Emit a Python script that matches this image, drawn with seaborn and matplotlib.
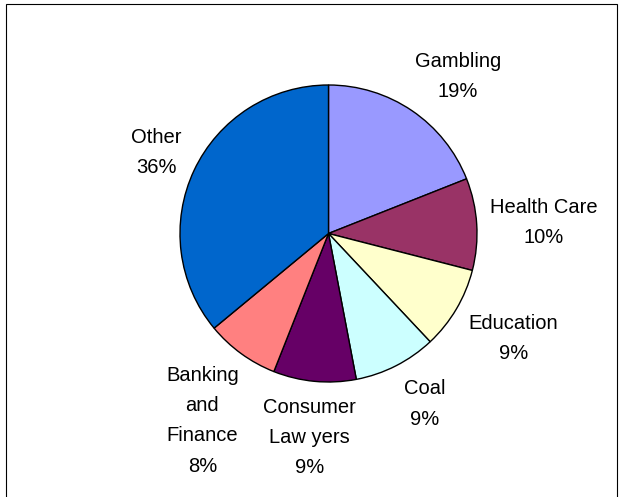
import matplotlib
matplotlib.use("Agg")
import matplotlib.pyplot as plt
import seaborn as sns
import numpy as np

categories = ["Gambling", "Health Care", "Education", "Coal",
              "Consumer\nLaw yers", "Banking\nand\nFinance", "Other"]
values = [19, 10, 9, 9, 9, 8, 36]
colors = ["#9999FF", "#993366", "#FFFFCC", "#CCFFFF", "#660066", "#FF8080", "#0066CC"]

sns.set_theme(style="white")
plt.rcParams['font.family'] = ['Liberation Sans', 'DejaVu Sans']

fig = plt.figure(figsize=(6.23, 4.97), dpi=100)
fig.patch.set_facecolor("white")
# outer frame
fig.add_artist(plt.Rectangle((6/623, -0.01), (617-6)/623, 1 - 4/497 + 0.01,
                             transform=fig.transFigure, fill=False,
                             edgecolor="black", linewidth=0.8))

ax = fig.add_axes([180/623, (497-382)/497, 297/623, 297/497])
labels = [f"{c}\n{v}%" for c, v in zip(categories, values)]
wedges, texts = ax.pie(values, colors=colors, startangle=90, counterclock=False,
                       labels=labels, labeldistance=1.4,
                       wedgeprops=dict(edgecolor="black", linewidth=1.0),
                       textprops=dict(fontsize=14.5, color="black",
                                      ha="center", va="center", linespacing=1.75))
# label placement (radius multiples and angle nudges in degrees)
dists = [1.37, 1.45, 1.43, 1.32, 1.38, 1.52, 1.28]
nudges = [-5.4, -0.7, 1.0, 2.5, 0.0, 2.0, 0.0]
for w, t, d, n in zip(wedges, texts, dists, nudges):
    ang = np.deg2rad((w.theta1 + w.theta2) / 2 + n)
    t.set_position((d * np.cos(ang), d * np.sin(ang)))
    t.set_ha("center")
    t.set_va("center")
ax.set_xlim(-1, 1)
ax.set_ylim(-1, 1)
ax.set_aspect("equal")
ax.axis("off")

fig.savefig("out.png", dpi=100)
